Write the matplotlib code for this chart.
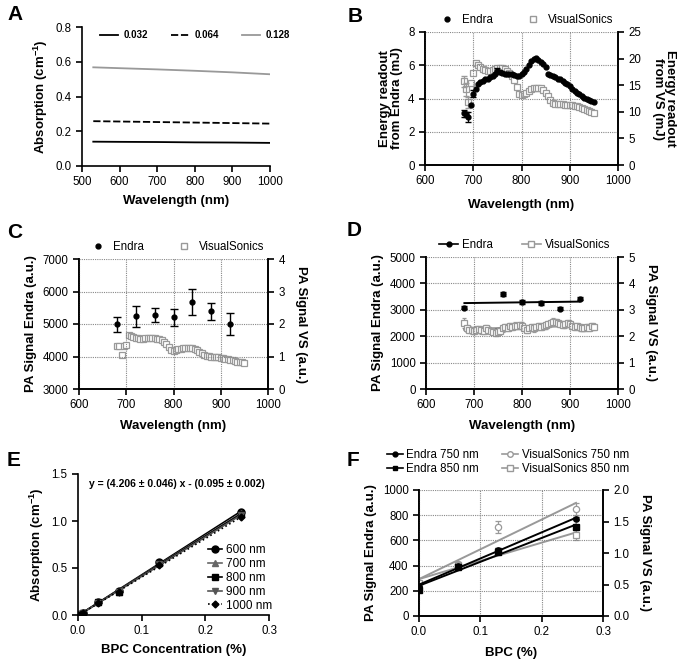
import numpy as np
import matplotlib.pyplot as plt
from matplotlib.lines import Line2D

plt.rcParams['font.family'] = ['Liberation Sans', 'DejaVu Sans']
plt.rcParams['font.size'] = 8
plt.rcParams['mathtext.fontset'] = 'custom'
plt.rcParams['mathtext.rm'] = 'Liberation Sans'
plt.rcParams['mathtext.bf'] = 'Liberation Sans:bold'
plt.rcParams['axes.linewidth'] = 1.2
for k in ('xtick', 'ytick'):
    plt.rcParams[k + '.major.width'] = 1.2
    plt.rcParams[k + '.major.size'] = 4
    plt.rcParams[k + '.labelsize'] = 8.3
    plt.rcParams[k + '.direction'] = 'out'

# ---- data -------------------------------------------------------------
# A: absorption spectra for three BPC concentrations
a_wl = [530, 600, 700, 800, 900, 1000]
a_032 = [0.140, 0.139, 0.138, 0.136, 0.135, 0.133]
a_064 = [0.258, 0.256, 0.253, 0.250, 0.247, 0.244]
a_128 = [0.568, 0.563, 0.556, 0.548, 0.539, 0.528]

# B: laser energy readouts (5 nm steps, 680-950 nm)
wl = list(range(680, 955, 5))
b_endra = [3.10, 3.05, 2.90, 3.60, 4.30, 4.60, 4.90, 5.00, 5.05, 5.15,
           5.20, 5.30, 5.35, 5.50, 5.65, 5.60, 5.55, 5.50, 5.50, 5.45,
           5.50, 5.40, 5.35, 5.35, 5.45, 5.60, 5.80, 6.00, 6.25, 6.40,
           6.45, 6.30, 6.20, 6.05, 5.90, 5.50, 5.40, 5.35, 5.30, 5.20,
           5.15, 5.05, 4.95, 4.85, 4.75, 4.60, 4.45, 4.35, 4.25, 4.15,
           4.05, 3.95, 3.90, 3.85, 3.80]
b_vs = [15.7, 14.2, 11.8, 15.4, 17.2, 19.2, 18.8, 18.4, 18.1, 17.8,
        17.6, 17.7, 17.9, 18.1, 18.2, 18.3, 18.2, 18.0, 17.6, 17.2,
        16.8, 16.0, 14.6, 13.3, 13.2, 13.4, 13.6, 13.9, 14.2, 14.4,
        14.5, 14.5, 14.4, 14.1, 13.6, 12.9, 12.2, 11.6, 11.5, 11.5,
        11.4, 11.4, 11.3, 11.3, 11.2, 11.2, 11.1, 11.0, 10.9, 10.8,
        10.6, 10.4, 10.2, 10.0, 9.8]
b_endra_err_wl = [680, 685, 690, 700, 750]
b_endra_err = [0.20, 0.15, 0.30, 0.20, 0.20]
b_vs_err_wl = [680, 685, 690]
b_vs_err = [1.0, 1.3, 1.0]

# C: PA signal, Endra at 40 nm steps, VisualSonics at 5 nm steps
c_endra_wl = [680, 720, 760, 800, 840, 880, 920]
c_endra = [4995, 5242, 5273, 5211, 5673, 5386, 4995]
c_endra_err = [230, 320, 215, 265, 395, 270, 330]
c_vs = [1.33, 1.32, 1.05, 1.33, 1.35, 1.65, 1.62, 1.60, 1.58, 1.56,
        1.55, 1.55, 1.56, 1.57, 1.58, 1.57, 1.56, 1.55, 1.53, 1.50,
        1.45, 1.40, 1.30, 1.20, 1.17, 1.20, 1.22, 1.24, 1.26, 1.27,
        1.27, 1.27, 1.26, 1.24, 1.20, 1.15, 1.10, 1.05, 1.02, 1.01,
        1.00, 0.99, 0.98, 0.97, 0.96, 0.95, 0.93, 0.91, 0.90, 0.88,
        0.86, 0.84, 0.83, 0.82, 0.81]

# D: energy-corrected PA signal
d_endra_wl = [680, 760, 800, 840, 880, 920]
d_endra = [3086, 3590, 3300, 3262, 3048, 3426]
d_endra_err = [70, 80, 90, 70, 60, 60]
d_vs = [2.50, 2.30, 2.25, 2.22, 2.20, 2.25, 2.28, 2.22, 2.20, 2.30,
        2.25, 2.20, 2.15, 2.12, 2.15, 2.20, 2.30, 2.35, 2.30, 2.38,
        2.35, 2.40, 2.38, 2.42, 2.40, 2.30, 2.25, 2.30, 2.35, 2.30,
        2.35, 2.40, 2.35, 2.38, 2.42, 2.45, 2.50, 2.55, 2.52, 2.50,
        2.45, 2.42, 2.45, 2.50, 2.45, 2.40, 2.35, 2.38, 2.33, 2.30,
        2.32, 2.35, 2.30, 2.38, 2.35]
d_vs_err = [0.18, 0.14, 0.12, 0.12, 0.13, 0.12, 0.11, 0.12, 0.13, 0.12,
            0.12, 0.11, 0.12, 0.13, 0.12, 0.12, 0.13, 0.12, 0.11, 0.12,
            0.13, 0.12, 0.12, 0.13, 0.14, 0.12, 0.11, 0.12, 0.12, 0.13,
            0.12, 0.11, 0.12, 0.12, 0.13, 0.12, 0.12, 0.13, 0.12, 0.11,
            0.12, 0.12, 0.13, 0.12, 0.12, 0.11, 0.12, 0.12, 0.13, 0.12,
            0.12, 0.11, 0.12, 0.13, 0.12]

# E: absorption vs BPC concentration
e_conc = [0.0, 0.004, 0.008, 0.032, 0.064, 0.128, 0.256]
e_600 = [0.0, 0.01, 0.02, 0.14, 0.26, 0.56, 1.10]
e_700 = [0.0, 0.01, 0.02, 0.14, 0.25, 0.55, 1.08]
e_800 = [0.0, 0.01, 0.02, 0.14, 0.25, 0.55, 1.07]
e_900 = [0.0, 0.01, 0.02, 0.13, 0.25, 0.54, 1.06]
e_1000 = [0.0, 0.01, 0.02, 0.13, 0.24, 0.53, 1.04]

# F: PA signal vs BPC concentration
f_conc = [0.0, 0.064, 0.128, 0.256]
f_endra_750 = [230, 400, 525, 770]
f_endra_750_err = [8, 10, 12, 12]
f_endra_850 = [205, 390, 510, 705]
f_endra_850_err = [8, 10, 20, 12]
f_vs_750 = [0.52, 0.83, 1.41, 1.70]
f_vs_750_err = [0.03, 0.03, 0.10, 0.10]
f_vs_850 = [0.52, 0.81, 1.03, 1.28]
f_vs_850_err = [0.02, 0.03, 0.03, 0.08]

# ---- figure -----------------------------------------------------------
W, H = 683, 663
fig = plt.figure(figsize=(W / 100, H / 100), dpi=100)

GRAY = '#999999'
LBL = dict(fontsize=9.5, fontweight='bold')


def add_ax(l, t, r, b):
    return fig.add_axes([l / W, 1 - b / H, (r - l) / W, (b - t) / H])


def panel(x, y, s):
    fig.text(x / W, 1 - y / H, s, fontsize=15, fontweight='bold',
             ha='center', va='center')


def grid(ax):
    ax.grid(True, color='#888888', linestyle=(0, (1, 1)), linewidth=0.8)
    ax.set_axisbelow(True)


def twin(ax):
    ax2 = ax.twinx()
    ax.spines['top'].set_visible(False)
    ax2.spines['top'].set_visible(False)
    return ax2


def fig_legend(handles, labels, cx, cy, **kw):
    fig.legend(handles, labels, loc='center', bbox_to_anchor=(cx / W, 1 - cy / H),
               frameon=False, fontsize=8.3, borderaxespad=0, **kw)


# A
ax = add_ax(82, 27, 270, 166)
ax.plot(a_wl, a_032, color='black', lw=1.3, label='0.032')
ax.plot(a_wl, a_064, color='black', lw=1.3, dashes=(4, 1.5), label='0.064')
ax.plot(a_wl, a_128, color=GRAY, lw=1.3, label='0.128')
ax.set_xlim(500, 1000)
ax.set_ylim(0, 0.8)
ax.set_xticks(range(500, 1001, 100))
ax.set_yticks([0.0, 0.2, 0.4, 0.6, 0.8])
ax.set_yticklabels(['0.0', '0.2', '0.4', '0.6', '0.8'])
ax.spines[['top', 'right']].set_visible(False)
ax.set_xlabel('Wavelength (nm)', labelpad=5, **LBL)
ax.set_ylabel(r'Absorption (cm$^{\mathbf{-1}}$)', **LBL)
ax.legend(loc='upper left', bbox_to_anchor=(0.05, 1.04), ncol=3, frameon=False,
          prop={'weight': 'bold', 'size': 7}, handlelength=1.8,
          handletextpad=0.6, columnspacing=2.4)
panel(15, 15, 'A')

# B
ax = add_ax(425, 32, 618, 165)
ax2 = twin(ax)
ax2.plot(wl, b_vs, 's', ms=4.5, mfc='white', mec=GRAY, mew=0.9)
ax2.errorbar(b_vs_err_wl, [b_vs[wl.index(w)] for w in b_vs_err_wl], yerr=b_vs_err,
             fmt='none', ecolor=GRAY, elinewidth=0.9, capsize=2)
ax.errorbar(b_endra_err_wl, [b_endra[wl.index(w)] for w in b_endra_err_wl],
            yerr=b_endra_err, fmt='none', ecolor='black', elinewidth=0.9, capsize=2)
ax.plot(wl, b_endra, 'o', ms=3.5, color='black')
ax.set_zorder(ax2.get_zorder() + 1)
ax.patch.set_visible(False)
grid(ax)
ax.set_xlim(600, 1000)
ax.set_ylim(0, 8)
ax.set_xticks(range(600, 1001, 100))
ax.set_yticks(range(0, 9, 2))
ax2.set_ylim(0, 25)
ax2.set_yticks(range(0, 26, 5))
ax.set_xlabel('Wavelength (nm)', labelpad=8, **LBL)
ax.set_ylabel('Energy readout\nfrom Endra (mJ)', linespacing=1.0, **LBL)
ax2.set_ylabel('Energy readout\nfrom VS (mJ)', rotation=270, va='bottom',
               linespacing=1.0, labelpad=8, **LBL)
fig_legend([Line2D([], [], ls='none', marker='o', ms=3.5, color='black'),
            Line2D([], [], ls='none', marker='s', ms=4.5, mfc='white', mec=GRAY)],
           ['Endra', 'VisualSonics'], 527, 20, ncol=2, handlelength=1.0,
           columnspacing=3.0)
panel(355, 17, 'B')

# C
ax = add_ax(79, 259, 268, 389)
ax2 = twin(ax)
ax2.plot(wl, c_vs, 's', ms=4.5, mfc='white', mec=GRAY, mew=0.9)
ax.errorbar(c_endra_wl, c_endra, yerr=c_endra_err, fmt='o', ms=3.5, color='black',
            ecolor='black', elinewidth=1.0, capsize=3, capthick=1.0)
ax.set_zorder(ax2.get_zorder() + 1)
ax.patch.set_visible(False)
grid(ax)
ax.set_xlim(600, 1000)
ax.set_ylim(3000, 7000)
ax.set_xticks(range(600, 1001, 100))
ax.set_yticks(range(3000, 7001, 1000))
ax2.set_ylim(0, 4)
ax2.set_yticks(range(0, 5))
ax.set_xlabel('Wavelength (nm)', labelpad=6, **LBL)
ax.set_ylabel('PA Signal Endra (a.u.)', **LBL)
ax2.set_ylabel('PA Signal VS (a.u.)', rotation=270, va='bottom', labelpad=7, **LBL)
fig_legend([Line2D([], [], ls='none', marker='o', ms=3.5, color='black'),
            Line2D([], [], ls='none', marker='s', ms=4.5, mfc='white', mec=GRAY)],
           ['Endra', 'VisualSonics'], 178, 247, ncol=2, handlelength=1.0,
           columnspacing=3.0)
panel(15, 233, 'C')

# D
ax = add_ax(426, 257, 618, 389)
ax2 = twin(ax)
ax2.errorbar(wl, d_vs, yerr=d_vs_err, fmt='s', ms=4.5, mfc='white', mec=GRAY,
             mew=0.9, ecolor=GRAY, elinewidth=0.9, capsize=1.5)
k, c0 = np.polyfit(wl, d_vs, 1)
ax2.plot([wl[0], wl[-1]], [k * wl[0] + c0, k * wl[-1] + c0], color='#777777', lw=1.6)
ax.errorbar(d_endra_wl, d_endra, yerr=d_endra_err, fmt='o', ms=3.5, color='black',
            ecolor='black', elinewidth=1.0, capsize=2)
k, c0 = np.polyfit(d_endra_wl, d_endra, 1)
ax.plot([d_endra_wl[0], d_endra_wl[-1]],
        [k * d_endra_wl[0] + c0, k * d_endra_wl[-1] + c0], color='black', lw=1.4)
ax.set_zorder(ax2.get_zorder() + 1)
ax.patch.set_visible(False)
grid(ax)
ax.set_xlim(600, 1000)
ax.set_ylim(0, 5000)
ax.set_xticks(range(600, 1001, 100))
ax.set_yticks(range(0, 5001, 1000))
ax2.set_ylim(0, 5)
ax2.set_yticks(range(0, 6))
ax.set_xlabel('Wavelength (nm)', labelpad=6, **LBL)
ax.set_ylabel('PA Signal Endra (a.u.)', **LBL)
ax2.set_ylabel('PA Signal VS (a.u.)', rotation=270, va='bottom', labelpad=7, **LBL)
fig_legend([Line2D([], [], marker='o', ms=3.5, color='black', lw=1.2),
            Line2D([], [], marker='s', ms=4.5, mfc='white', mec=GRAY, color=GRAY, lw=1.2)],
           ['Endra', 'VisualSonics'], 525, 245, ncol=2, handlelength=1.6,
           handletextpad=0.4, columnspacing=2.5)
panel(354, 231, 'D')

# E
ax = add_ax(78, 474, 269, 615)
e_series = [(e_600, 'o', 'black', '-', '600 nm'),
            (e_700, '^', '#666666', '-', '700 nm'),
            (e_800, 's', 'black', '-', '800 nm'),
            (e_900, 'v', '#555555', '-', '900 nm'),
            (e_1000, 'D', 'black', ':', '1000 nm')]
for vals, mk, col, ls, name in e_series:
    k, c0 = np.polyfit(e_conc, vals, 1)
    ax.plot([0, e_conc[-1]], [c0, k * e_conc[-1] + c0], color=col, ls=ls, lw=1.2)
    ax.plot(e_conc, vals, mk, color=col, ms=5 if mk != 'D' else 3.5)
ax.set_xlim(0, 0.3)
ax.set_ylim(0, 1.5)
ax.set_xticks([0.0, 0.1, 0.2, 0.3])
ax.set_xticklabels(['0.0', '0.1', '0.2', '0.3'])
ax.set_yticks([0.0, 0.5, 1.0, 1.5])
ax.set_yticklabels(['0.0', '0.5', '1.0', '1.5'])
ax.spines[['top', 'right']].set_visible(False)
ax.set_xlabel('BPC Concentration (%)', labelpad=5, **LBL)
ax.set_ylabel(r'Absorption (cm$^{\mathbf{-1}}$)', **LBL)
ax.text(0.52, 0.93, 'y = (4.206 \u00b1 0.046) x - (0.095 \u00b1 0.002)',
        transform=ax.transAxes, ha='center', va='center', fontsize=7.5,
        fontweight='bold')
ax.legend([Line2D([], [], marker=mk, color=col, ls=ls, lw=1.2,
                  ms=5 if mk != 'D' else 3.5) for _, mk, col, ls, _ in e_series],
          [s[-1] for s in e_series], loc='center',
          bbox_to_anchor=((207 + 273) / 2 / W, 1 - 578 / H),
          bbox_transform=fig.transFigure, frameon=False, fontsize=8.5,
          handlelength=1.2, handletextpad=0.3, labelspacing=0.15, borderaxespad=0)
panel(14, 460, 'E')

# F
ax = add_ax(419, 490, 603, 616)
ax2 = twin(ax)
fit_x = [0, f_conc[-1]]
for vals, err, mk in [(f_vs_750, f_vs_750_err, 'o'), (f_vs_850, f_vs_850_err, 's')]:
    k, c0 = np.polyfit(f_conc, vals, 1)
    ax2.plot(fit_x, [c0, k * fit_x[1] + c0], color=GRAY, lw=1.4)
    ax2.errorbar(f_conc, vals, yerr=err, fmt=mk, ms=4.5, mfc='white', mec=GRAY,
                 mew=0.9, ecolor=GRAY, elinewidth=0.9, capsize=2)
for vals, err, mk in [(f_endra_750, f_endra_750_err, 'o'),
                      (f_endra_850, f_endra_850_err, 's')]:
    k, c0 = np.polyfit(f_conc, vals, 1)
    ax.plot(fit_x, [c0, k * fit_x[1] + c0], color='black', lw=1.4)
    ax.errorbar(f_conc, vals, yerr=err, fmt=mk, ms=3.8, color='black',
                ecolor='black', elinewidth=0.9, capsize=2)
ax.set_zorder(ax2.get_zorder() + 1)
ax.patch.set_visible(False)
grid(ax)
ax.set_xlim(0, 0.3)
ax.set_ylim(0, 1000)
ax.set_xticks([0.0, 0.1, 0.2, 0.3])
ax.set_xticklabels(['0.0', '0.1', '0.2', '0.3'])
ax.set_yticks(range(0, 1001, 200))
ax2.set_ylim(0, 2.0)
ax2.set_yticks([0.0, 0.5, 1.0, 1.5, 2.0])
ax2.set_yticklabels(['0.0', '0.5', '1.0', '1.5', '2.0'])
ax.set_xlabel('BPC (%)', labelpad=6, **LBL)
ax.set_ylabel('PA Signal Endra (a.u.)', **LBL)
ax2.set_ylabel('PA Signal VS (a.u.)', rotation=270, va='bottom', labelpad=7, **LBL)
fig_legend([Line2D([], [], marker='o', ms=3.5, color='black', lw=1.2),
            Line2D([], [], marker='s', ms=3.5, color='black', lw=1.2),
            Line2D([], [], marker='o', ms=4, mfc='white', mec=GRAY, color=GRAY, lw=1.2),
            Line2D([], [], marker='s', ms=4, mfc='white', mec=GRAY, color=GRAY, lw=1.2)],
           ['Endra 750 nm', 'Endra 850 nm', 'VisualSonics 750 nm', 'VisualSonics 850 nm'],
           508, 462, ncol=2, handlelength=1.4, handletextpad=0.3,
           columnspacing=2.0, labelspacing=0.15)
panel(353, 460, 'F')

fig.savefig('out.png', dpi=100)
